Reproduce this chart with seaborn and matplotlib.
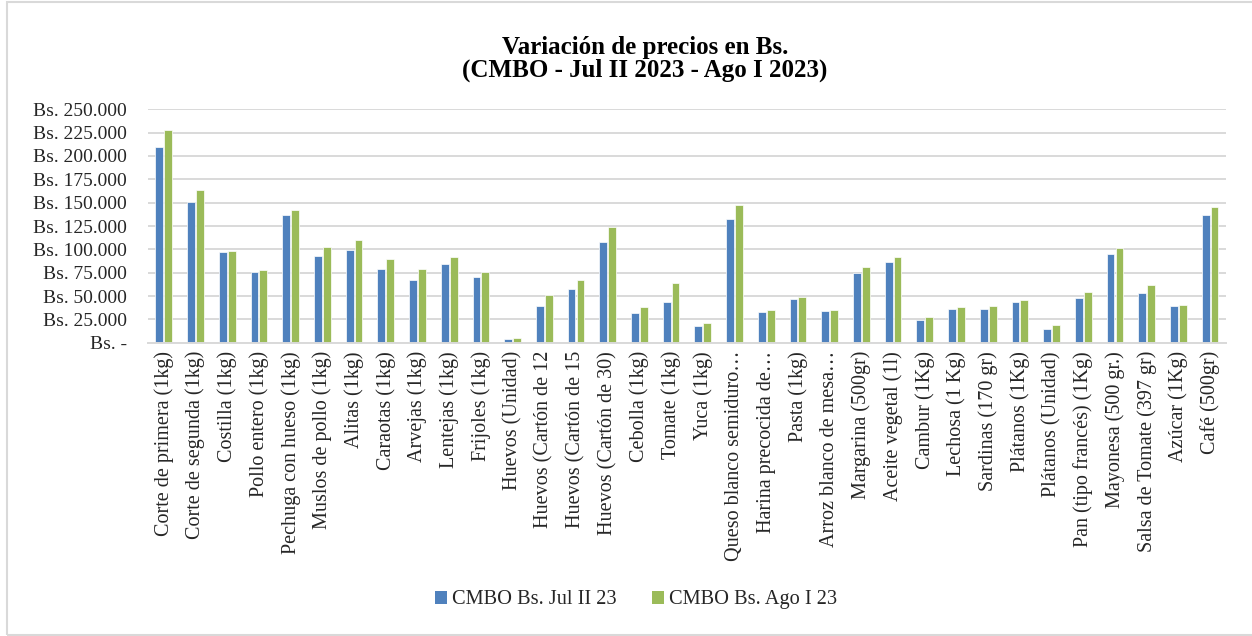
import matplotlib
matplotlib.use("Agg")
import matplotlib.pyplot as plt
import seaborn as sns
import pandas as pd
from matplotlib.ticker import FuncFormatter, MultipleLocator
from matplotlib.patches import Rectangle

categories = [
    "Corte de primera (1kg)", "Corte de segunda (1kg)", "Costilla (1kg)",
    "Pollo entero (1kg)", "Pechuga con hueso (1kg)", "Muslos de pollo (1kg)",
    "Alitas (1kg)", "Caraotas (1kg)", "Arvejas (1kg)", "Lentejas (1kg)",
    "Frijoles (1kg)", "Huevos (Unidad)", "Huevos (Cartón de 12",
    "Huevos (Cartón de 15", "Huevos (Cartón de 30)", "Cebolla (1kg)",
    "Tomate (1kg)", "Yuca (1kg)", "Queso blanco semiduro…",
    "Harina precocida de…", "Pasta (1kg)", "Arroz blanco de mesa…",
    "Margarina (500gr)", "Aceite vegetal (1l)", "Cambur (1Kg)",
    "Lechosa (1 Kg)", "Sardinas (170 gr)", "Plátanos (1Kg)",
    "Plátanos (Unidad)", "Pan (tipo francés) (1Kg)", "Mayonesa (500 gr.)",
    "Salsa de Tomate (397 gr)", "Azúcar (1Kg)", "Café (500gr)",
]

jul_ii_23 = [
    209300, 150700, 97100, 75700, 136800, 92900, 98900, 78600, 67100, 83900,
    70700, 3900, 39300, 57500, 107500, 31800, 43600, 18200, 132900, 32900,
    46400, 33600, 75000, 86800, 24600, 36100, 35700, 43600, 14600, 47900,
    94600, 53200, 38900, 136400,
]

ago_i_23 = [
    227500, 163600, 98200, 78200, 142100, 102500, 110000, 89600, 78600, 91400,
    75400, 4600, 50700, 67100, 123900, 38600, 63900, 20700, 147900, 34600,
    48900, 35000, 80700, 91400, 27500, 38200, 39600, 45400, 18900, 53900,
    101100, 62100, 40400, 145400,
]

series_names = ["CMBO Bs. Jul II 23", "CMBO Bs. Ago I 23"]
colors = ["#4F81BD", "#9BBB59"]

df = pd.DataFrame({
    "Producto": categories * 2,
    "Precio": jul_ii_23 + ago_i_23,
    "Serie": [series_names[0]] * len(categories) + [series_names[1]] * len(categories),
})

sns.set_theme(style="white")
plt.rcParams["font.family"] = ["Liberation Serif", "DejaVu Serif"]

fig = plt.figure(figsize=(12.52, 6.36), dpi=100)
ax = fig.add_axes([0.1182, 0.4612, 0.8610, 0.3669])

sns.barplot(
    data=df, x="Producto", y="Precio", hue="Serie",
    order=categories, hue_order=series_names, palette=colors,
    width=0.56, gap=0.12, edgecolor="white", linewidth=0.5,
    saturation=1, ax=ax, legend=False,
)

ax.set_ylim(0, 250000)
ax.set_xlim(-0.5, len(categories) - 0.5)
ax.yaxis.set_major_locator(MultipleLocator(25000))

def fmt(v, pos):
    if v == 0:
        return "Bs. -"
    return "Bs. " + f"{int(v):,}".replace(",", ".")

ax.yaxis.set_major_formatter(FuncFormatter(fmt))
ax.yaxis.grid(True, color="#D9D9D9", linewidth=1.4)
ax.set_axisbelow(True)
for s in ["top", "right", "left"]:
    ax.spines[s].set_visible(False)
ax.spines["bottom"].set_color("#D9D9D9")
ax.spines["bottom"].set_linewidth(1.4)
ax.set_xlabel("")
ax.set_ylabel("")
ax.tick_params(axis="y", length=0, pad=15, labelsize=14, labelcolor="#262626")
ax.tick_params(axis="x", length=0, pad=6, labelsize=14.5, labelcolor="#262626")
plt.setp(ax.get_xticklabels(), rotation=90, ha="center", va="top")

fig.text(0.515, 0.926, "Variación de precios en Bs.", ha="center", va="center",
         fontsize=18, fontweight="bold", color="black")
fig.text(0.515, 0.889, "(CMBO - Jul II 2023 - Ago I 2023)", ha="center", va="center",
         fontsize=18, fontweight="bold", color="black")

handles = [Rectangle((0, 0), 1, 1, facecolor=c, edgecolor="none") for c in colors]
fig.legend(handles, series_names, loc="center", bbox_to_anchor=(0.508, 0.057),
           ncol=2, frameon=False, fontsize=14.7, handlelength=0.6, handleheight=0.6,
           handletextpad=0.25, columnspacing=1.7, labelcolor="#262626")

border = Rectangle((7 / 1252, 1 / 636), 1250 / 1252, 633 / 636, transform=fig.transFigure,
                   fill=False, edgecolor="#D9D9D9", linewidth=1.5)
fig.patches.append(border)

fig.savefig("out.png", dpi=100)
